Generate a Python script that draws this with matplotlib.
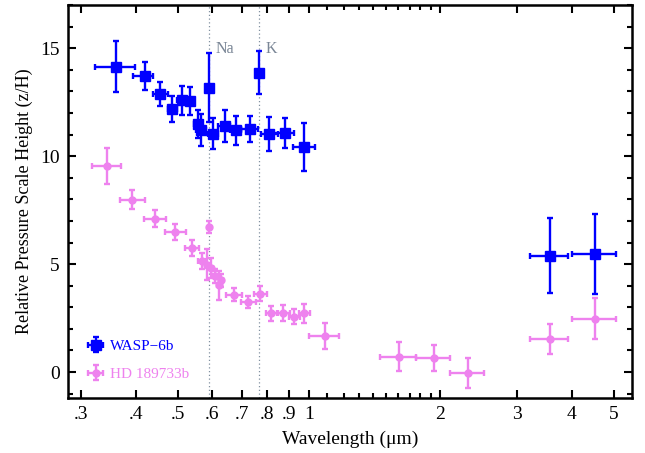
import numpy as np
import matplotlib
matplotlib.use("Agg")
import matplotlib.pyplot as plt
from matplotlib.ticker import FixedLocator, FixedFormatter, NullFormatter

plt.rcParams["font.family"] = ["Liberation Serif", "DejaVu Serif"]

# WASP-6b: wavelength centre, bin edges, scale height, error
wasp_wl = [0.361, 0.420, 0.456, 0.486, 0.512, 0.533, 0.557, 0.566, 0.589, 0.603,
           0.641, 0.679, 0.730, 0.769, 0.807, 0.880, 0.975, 3.57, 4.53]
wasp_lo = [0.323, 0.395, 0.439, 0.474, 0.499, 0.524, 0.545, 0.549, 0.589, 0.587,
           0.619, 0.659, 0.697, 0.769, 0.775, 0.828, 0.916, 3.21, 4.00]
wasp_hi = [0.399, 0.439, 0.474, 0.499, 0.524, 0.545, 0.569, 0.579, 0.589, 0.619,
           0.659, 0.697, 0.764, 0.769, 0.848, 0.924, 1.032, 3.93, 5.05]
wasp_z = [14.15, 13.69, 12.89, 12.18, 12.58, 12.55, 11.50, 11.20, 13.17, 11.04,
          11.40, 11.20, 11.24, 13.86, 11.04, 11.09, 10.43, 5.39, 5.47]
wasp_zerr = [1.2, 0.65, 0.56, 0.6, 0.67, 0.64, 0.64, 0.73, 1.6, 0.71,
             0.75, 0.68, 0.6, 1.0, 0.78, 0.69, 1.11, 1.75, 1.87]

# HD 189733b
hd_wl = [0.344, 0.393, 0.443, 0.493, 0.538, 0.589, 0.569, 0.584, 0.597, 0.608,
         0.620, 0.629, 0.673, 0.725, 0.772, 0.819, 0.873, 0.925, 0.975, 1.086,
         1.603, 1.928, 2.307, 3.57, 4.53]
hd_lo = [0.318, 0.368, 0.419, 0.467, 0.519, 0.589, 0.557, 0.578, 0.591, 0.602,
         0.614, 0.623, 0.646, 0.697, 0.748, 0.796, 0.846, 0.900, 0.948, 1.000,
         1.452, 1.757, 2.10, 3.21, 4.00]
hd_hi = [0.370, 0.420, 0.470, 0.521, 0.559, 0.589, 0.580, 0.590, 0.603, 0.614,
         0.626, 0.635, 0.700, 0.755, 0.802, 0.848, 0.903, 0.952, 1.004, 1.172,
         1.757, 2.105, 2.52, 3.93, 5.05]
hd_z = [9.54, 7.97, 7.10, 6.48, 5.75, 6.70, 5.16, 4.98, 4.82, 4.44,
        4.01, 4.25, 3.59, 3.26, 3.63, 2.72, 2.75, 2.56, 2.72, 1.67,
        0.72, 0.66, -0.05, 1.55, 2.47]
hd_zerr = [0.85, 0.44, 0.39, 0.38, 0.36, 0.28, 0.37, 0.7, 0.45, 0.33,
           0.65, 0.3, 0.31, 0.28, 0.35, 0.35, 0.37, 0.35, 0.44, 0.6,
           0.68, 0.6, 0.7, 0.7, 0.94]

lines_wl = [0.589, 0.768]
lines_name = ["Na", "K"]

xticks = [0.3, 0.4, 0.5, 0.6, 0.7, 0.8, 0.9, 1, 2, 3, 4, 5]
xticklabels = [".3", ".4", ".5", ".6", ".7", ".8", ".9", "1", "2", "3", "4", "5"]
xminor = [1.1, 1.2, 1.3, 1.4, 1.5, 1.6, 1.7, 1.8, 1.9]

blue = "#0000ff"
pink = "#ee82ee"

fig = plt.figure(figsize=(6.45, 4.53), dpi=100)
ax = fig.add_axes([0.1054, 0.1214, 0.8746, 0.8676])

for w in lines_wl:
    ax.axvline(w, color="#8090a0", ls=(0, (1, 2)), lw=0.9, zorder=1)
for w, name in zip(lines_wl, lines_name):
    ax.text(w * 1.035, 14.95, name, color="#7a8696", fontsize=11.5,
            ha="left", va="center")


def xerrs(wl, lo, hi):
    wl = np.array(wl)
    return [wl - np.array(lo), np.array(hi) - wl]


ax.errorbar(hd_wl, hd_z, yerr=hd_zerr, xerr=xerrs(hd_wl, hd_lo, hd_hi),
            fmt="o", color=pink, ms=5, elinewidth=1.7, capsize=2.5,
            capthick=1.7, label="HD 189733b", zorder=2)
ax.errorbar(wasp_wl, wasp_z, yerr=wasp_zerr, xerr=xerrs(wasp_wl, wasp_lo, wasp_hi),
            fmt="s", color=blue, ms=7.5, elinewidth=1.7, capsize=2.5,
            capthick=1.7, label="WASP\u22126b", zorder=3)

ax.set_xscale("log")
ax.set_xlim(0.28, 5.5)
ax.set_ylim(-1.2, 17)

ax.xaxis.set_major_locator(FixedLocator(xticks))
ax.xaxis.set_major_formatter(FixedFormatter(xticklabels))
ax.xaxis.set_minor_locator(FixedLocator(xminor))
ax.xaxis.set_minor_formatter(NullFormatter())
ax.set_yticks([0, 5, 10, 15])
ax.yaxis.set_minor_locator(FixedLocator(np.arange(-1, 18, 1)))

ax.tick_params(which="both", direction="in", top=True, right=True,
               labelsize=14, width=1.5)
ax.tick_params(which="major", length=6, pad=6)
ax.tick_params(which="minor", length=3.5)
for s in ax.spines.values():
    s.set_linewidth(1.8)

ax.set_xlabel("Wavelength (\u03bcm)", fontsize=14, labelpad=5)
ax.set_ylabel("Relative Pressure Scale Height (z/H)", fontsize=13, labelpad=5)

h, l = ax.get_legend_handles_labels()
leg = ax.legend(h[::-1], l[::-1], loc="lower left", frameon=False, fontsize=11,
                handlelength=1.0, handletextpad=0.45, labelspacing=0.95,
                bbox_to_anchor=(0.011, 0.008))
for txt, c in zip(leg.get_texts(), [blue, pink]):
    txt.set_color(c)

fig.savefig("out.png", dpi=100)
